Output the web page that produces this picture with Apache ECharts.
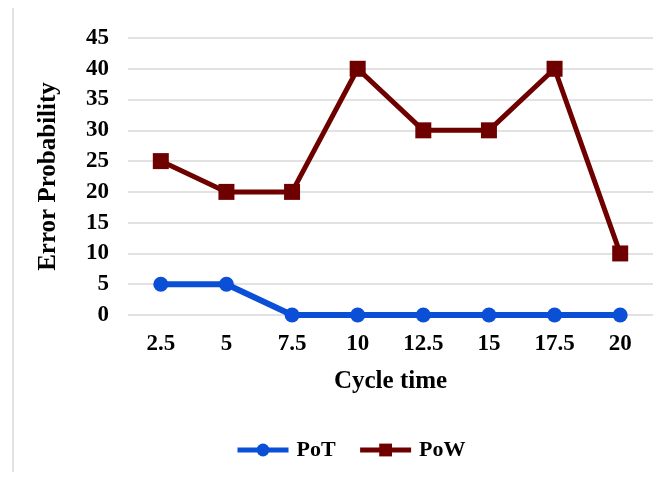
<!DOCTYPE html>
<html><head><meta charset="utf-8">
<script src="https://cdn.jsdelivr.net/npm/echarts@6/dist/echarts.min.js"></script>
<style>html,body{margin:0;padding:0;background:#fff}#c{width:668px;height:484px}</style>
</head><body><div id="c"></div>
<script>
const categories = ['2.5','5','7.5','10','12.5','15','17.5','20'];
const potValues = [5,5,0,0,0,0,0,0];
const powValues = [25,20,20,40,30,30,40,10];
const yTicks = {min:0, max:45, interval:5};
const font = '"Liberation Serif","Times New Roman",serif';
const chart = echarts.init(document.getElementById('c'));
chart.setOption({
  animation:false,
  graphic:[{type:'line',shape:{x1:13,y1:8,x2:13,y2:472},style:{stroke:'#d9d9d9',lineWidth:1.5}}],
  grid:{left:128,right:15,top:38,bottom:169},
  xAxis:{type:'category',data:categories,boundaryGap:true,
    name:'Cycle time',nameLocation:'middle',nameGap:54,
    nameTextStyle:{fontFamily:font,fontWeight:'bold',fontSize:25,color:'#000'},
    axisLine:{show:false},axisTick:{show:false},
    axisLabel:{fontFamily:font,fontWeight:'bold',fontSize:23,color:'#000',margin:18}},
  yAxis:{type:'value',min:yTicks.min,max:yTicks.max,interval:yTicks.interval,
    name:'Error Probability',nameLocation:'middle',nameGap:67,
    nameTextStyle:{fontFamily:font,fontWeight:'bold',fontSize:25,color:'#000'},
    axisLine:{show:false},axisTick:{show:false},
    splitLine:{lineStyle:{color:'#d9d9d9',width:1.5}},
    axisLabel:{fontFamily:font,fontWeight:'bold',fontSize:23,color:'#000',margin:19}},
  legend:{top:434,left:230,itemWidth:51,itemHeight:16,itemGap:22,
    lineStyle:{width:5},
    textStyle:{fontFamily:font,fontWeight:'bold',fontSize:22,color:'#000',padding:[0,0,0,3]},
    data:['PoT','PoW']},
  series:[
    {name:'PoT',type:'line',data:potValues,symbol:'circle',symbolSize:15,
     lineStyle:{width:6,color:'#0a4fd6'},itemStyle:{color:'#0a4fd6'}},
    {name:'PoW',type:'line',data:powValues,symbol:'rect',symbolSize:16,
     lineStyle:{width:5,color:'#6e0000'},itemStyle:{color:'#6e0000'}}
  ]
});
</script></body></html>
